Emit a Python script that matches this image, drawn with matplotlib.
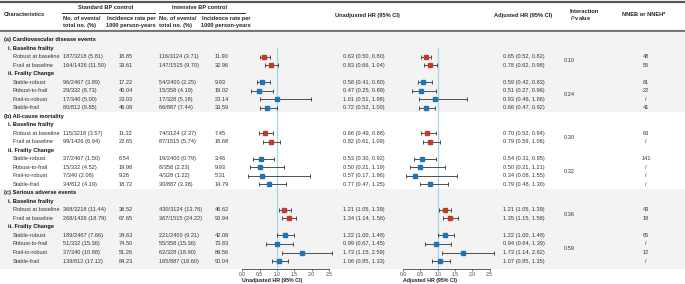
import matplotlib
matplotlib.use("Agg")
import matplotlib.pyplot as plt

plt.rcParams['font.family'] = ['Liberation Sans', 'DejaVu Sans']

# ------------------- data -------------------
sections = ["(a) Cardiovascular disease events", "(b) All-cause mortality", "(c) Serious adverse events"]
subgroups = ["i. Baseline frailty", "ii. Frailty Change"]
baseline_rows = ["Robust at baseline", "Frail at baseline"]
change_rows = ["Stable-robust", "Robust-to-frail", "Frail-to-robust", "Stable-frail"]

std_events = ["187/3218 (5.81)", "164/1426 (11.50)", "96/2467 (3.89)", "29/332 (8.73)", "17/340 (5.00)", "80/812 (9.85)",
              "115/3218 (3.57)", "99/1426 (6.94)", "37/2467 (1.50)", "15/332 (4.52)", "7/340 (2.06)", "34/812 (4.19)",
              "368/3218 (11.44)", "268/1426 (18.79)", "189/2467 (7.66)", "51/332 (15.36)", "37/340 (10.88)", "139/812 (17.12)"]
std_rate = ["18.85", "39.61", "17.22", "40.04", "23.03", "46.08",
            "11.32", "22.65", "6.54", "19.98", "9.26", "18.72",
            "38.52", "67.65", "34.63", "74.50", "51.26", "84.23"]
int_events = ["116/3124 (3.71)", "147/1515 (9.70)", "54/2400 (2.25)", "15/358 (4.19)", "17/328 (5.18)", "66/887 (7.44)",
              "74/3124 (2.37)", "87/1515 (5.74)", "19/2400 (0.79)", "8/358 (2.23)", "4/328 (1.22)", "30/887 (3.38)",
              "430/3124 (13.76)", "367/1515 (24.22)", "221/2400 (9.21)", "55/358 (15.36)", "62/328 (18.90)", "165/887 (18.60)"]
int_rate = ["11.90", "32.96", "9.93", "19.02", "23.14", "33.59",
            "7.45", "18.68", "3.46", "9.93", "5.31", "14.79",
            "46.62", "90.94", "42.08", "73.83", "89.56", "90.04"]

unadj_hr = [0.63, 0.83, 0.58, 0.47, 1.01, 0.72, 0.66, 0.82, 0.53, 0.50, 0.57, 0.77, 1.21, 1.34, 1.22, 0.99, 1.73, 1.06]
unadj_lo = [0.50, 0.66, 0.41, 0.25, 0.51, 0.52, 0.49, 0.61, 0.30, 0.21, 0.17, 0.47, 1.05, 1.14, 1.00, 0.67, 1.15, 0.85]
unadj_hi = [0.80, 1.04, 0.80, 0.89, 1.98, 1.00, 0.88, 1.09, 0.92, 1.19, 1.96, 1.25, 1.39, 1.56, 1.48, 1.45, 2.59, 1.33]
adj_hr = [0.65, 0.78, 0.59, 0.51, 0.93, 0.66, 0.70, 0.79, 0.54, 0.50, 0.34, 0.79, 1.21, 1.35, 1.22, 0.94, 1.73, 1.07]
adj_lo = [0.52, 0.62, 0.42, 0.27, 0.46, 0.47, 0.52, 0.59, 0.31, 0.21, 0.08, 0.48, 1.05, 1.15, 1.00, 0.64, 1.14, 0.85]
adj_hi = [0.82, 0.98, 0.83, 0.96, 1.86, 0.92, 0.94, 1.06, 0.95, 1.21, 1.55, 1.30, 1.39, 1.58, 1.48, 1.39, 2.62, 1.35]

nneb = ["48", "56", "61", "22", "/", "41",
        "83", "/", "141", "/", "/", "/",
        "43", "18", "65", "/", "12", "/"]
p_baseline = ["0.10", "0.30", "0.36"]
p_change = ["0.24", "0.32", "0.59"]

xticks = [0.0, 0.5, 1.0, 1.5, 2.0, 2.5]

# ------------------- layout (pixel coords) -------------------
W, H = 685, 284
RED = "#c23b2a"
BLUE = "#1f74b8"
GRID_BG = "#f3f3f3"
FS = 4.1

fig = plt.figure(figsize=(W / 100, H / 100), dpi=100)
ax = fig.add_axes([0, 0, 1, 1])
ax.set_xlim(0, W)
ax.set_ylim(H, 0)
ax.axis("off")

y0, step = 39.5, 8.52
axis_y = 268.7

# shaded blocks for (a) and (c)
ax.axhspan(33, 111.5, color=GRID_BG, lw=0, zorder=0)
ax.axhspan(189, axis_y, color=GRID_BG, lw=0, zorder=0)

# header
ax.plot([0, W], [1.5, 1.5], color="#555555", lw=1.6)
ax.plot([0, W], [31, 31], color="#777777", lw=1.6)
ax.plot([62, 155], [12.7, 12.7], color="#333333", lw=0.7)
ax.plot([159, 245], [12.7, 12.7], color="#333333", lw=0.7)
hb = dict(fontsize=FS, fontweight="bold", va="center", color="#222222")
ax.text(4, 15, "Characteristics", ha="left", **hb)
ax.text(106, 7.5, "Standard BP control", ha="center", **hb)
ax.text(200, 7.5, "Intensive BP control", ha="center", **hb)
ax.text(63, 18.3, "No. of events/", ha="left", **hb)
ax.text(63, 25, "total no. (%)", ha="left", **hb)
ax.text(131, 18.3, "Incidence rate per", ha="center", **hb)
ax.text(131, 25, "1000 person-years", ha="center", **hb)
ax.text(159, 18.3, "No. of events/", ha="left", **hb)
ax.text(159, 25, "total no. (%)", ha="left", **hb)
ax.text(226, 18.3, "Incidence rate per", ha="center", **hb)
ax.text(226, 25, "1000 person-years", ha="center", **hb)
ax.text(367, 15, "Unadjusted HR (95% CI)", ha="center", **hb)
ax.text(523, 15, "Adjusted HR (95% CI)", ha="center", **hb)
ax.text(570, 11.7, "Interaction", ha="left", **hb)
ax.text(570, 18.3, "$\\mathit{P}$ value", ha="left", **hb)
ax.text(644, 15, "NNEB or NNEH*", ha="center", **hb)

# forest axes
def forest_axes(x_left, x_right, label):
    fa = fig.add_axes([x_left / W, (H - axis_y) / H, (x_right - x_left) / W, (axis_y - 33) / H])
    fa.set_xlim(0, 2.5)
    fa.set_ylim(axis_y, 33)
    fa.patch.set_visible(False)
    for s in ["left", "top", "right"]:
        fa.spines[s].set_visible(False)
    fa.spines["bottom"].set_color("#444444")
    fa.spines["bottom"].set_linewidth(0.6)
    fa.set_yticks([])
    fa.set_xticks(xticks)
    fa.set_xticklabels([f"{t:.1f}" for t in xticks])
    fa.tick_params(axis="x", labelsize=3.6, length=1.6, width=0.5, pad=0.6, colors="#444444")
    fa.vlines(1.0, 47, axis_y, color="#a9d6e5", lw=0.9, zorder=1)
    ax.text(x_left, 280.5, label, ha="left", **hb_small)
    return fa

hb_small = dict(fontsize=3.8, fontweight="bold", va="center", color="#222222")
fu = forest_axes(242.3, 329, "Unadjusted HR (95% CI)")
fj = forest_axes(403, 489.6, "Adjusted HR (95% CI)")

td = dict(fontsize=FS, va="center", color="#333333")
tb = dict(fontsize=FS, va="center", color="#111111", fontweight="bold")

row = 0
k = 0
for si, sec in enumerate(sections):
    ax.text(4, y0 + row * step, sec, ha="left", **tb)
    row += 1
    for gi, (sub, labels) in enumerate(zip(subgroups, [baseline_rows, change_rows])):
        ax.text(8, y0 + row * step, sub, ha="left", **tb)
        row += 1
        first = row
        color = RED if gi == 0 else BLUE
        for lab in labels:
            y = y0 + row * step
            ax.text(13, y, lab, ha="left", **td)
            ax.text(63, y, std_events[k], ha="left", **td)
            ax.text(119, y, std_rate[k], ha="left", **td)
            ax.text(159, y, int_events[k], ha="left", **td)
            ax.text(215, y, int_rate[k], ha="left", **td)
            ax.text(343, y, f"{unadj_hr[k]:.2f} ({unadj_lo[k]:.2f}, {unadj_hi[k]:.2f})", ha="left", **td)
            ax.text(503, y, f"{adj_hr[k]:.2f} ({adj_lo[k]:.2f}, {adj_hi[k]:.2f})", ha="left", **td)
            ax.text(646, y, nneb[k], ha="center", **td)
            for fa, hr, lo, hi in [(fu, unadj_hr, unadj_lo, unadj_hi), (fj, adj_hr, adj_lo, adj_hi)]:
                fa.errorbar(hr[k], y, xerr=[[hr[k] - lo[k]], [hi[k] - hr[k]]], fmt="s", ms=3.4,
                            color=color, mec=color, ecolor="#333333", elinewidth=0.6,
                            capsize=1.1, capthick=0.6, clip_on=False, zorder=3)
            row += 1
            k += 1
        ymid = y0 + (first + row - 1) / 2 * step
        pv = p_baseline[si] if gi == 0 else p_change[si]
        ax.text(569, ymid, pv, ha="center", **td)

fig.savefig("out.png", dpi=100)
